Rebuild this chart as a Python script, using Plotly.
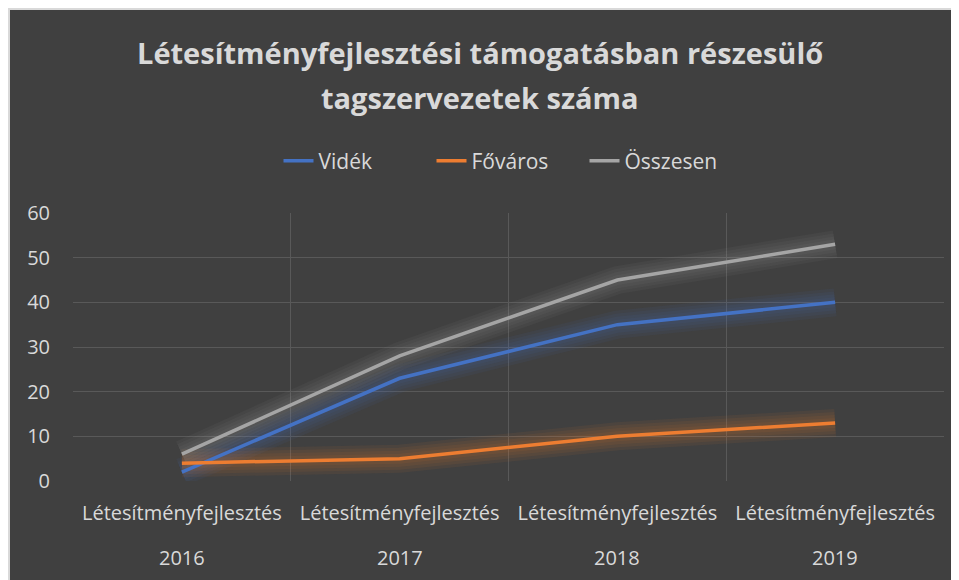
import plotly.graph_objects as go

# data
years = ["2016", "2017", "2018", "2019"]
category_label = "Létesítményfejlesztés"
videk = [2, 23, 35, 40]
fovaros = [4, 5, 10, 13]
osszesen = [6, 28, 45, 53]

series = [
    ("Vidék", videk, "#4472C4", "rgba(68,114,196,0.07)"),
    ("Főváros", fovaros, "#ED7D31", "rgba(237,125,49,0.07)"),
    ("Összesen", osszesen, "#A5A5A5", "rgba(165,165,165,0.06)"),
]

# the page puts the figure 8px in from the top-left corner
W, H = 951, 572
L, R, T, B = 65, 15, 205, 99
PW, PH = W - L - R, H - T - B


def px_x(p):
    return (p - L) / PW


def px_y(p):
    return (H - B - p) / PH


FONT = "'Open Sans', sans-serif"
TXT = "#d9d9d9"

fig = go.Figure()

# soft glow under each line
for name, vals, color, glow in series:
    for w in (28, 22, 16, 10):
        fig.add_trace(go.Scatter(
            x=years, y=vals, mode="lines",
            line=dict(color=glow, width=w),
            hoverinfo="skip", showlegend=False,
        ))

for name, vals, color, glow in series:
    fig.add_trace(go.Scatter(
        x=years, y=vals, mode="lines", name=name,
        line=dict(color=color, width=3.5),
    ))

fig.update_layout(
    width=W, height=H,
    margin=dict(l=L, r=R, t=T, b=B),
    paper_bgcolor="#404040",
    plot_bgcolor="#404040",
    font=dict(family=FONT, color=TXT, size=20),
    legend=dict(
        orientation="h", x=px_x(500), xanchor="center",
        y=px_y(153), yanchor="middle",
        font=dict(size=21, color=TXT),
        entrywidth=108, entrywidthmode="pixels",
        bgcolor="rgba(0,0,0,0)",
    ),
    showlegend=True,
)

# two-line title
title_lines = ["Létesítményfejlesztési támogatásban részesülő", "tagszervezetek száma"]
for line, ypx in zip(title_lines, (44, 89)):
    fig.add_annotation(
        text=f"<b>{line}</b>", xref="paper", yref="paper",
        x=px_x(472), y=px_y(ypx), xanchor="center", yanchor="middle",
        showarrow=False, font=dict(size=29, color=TXT, family=FONT),
    )

# outer category row (years)
for i, y in enumerate(years):
    fig.add_annotation(
        text=y, x=i, xref="x", yref="paper", y=px_y(549),
        xanchor="center", yanchor="middle", showarrow=False,
        font=dict(size=20, color=TXT, family=FONT),
    )

fig.update_xaxes(
    type="category",
    tickmode="array",
    tickvals=years,
    ticktext=[category_label for _ in years],
    tickson="boundaries",
    showgrid=True, gridcolor="#595959", gridwidth=1,
    showline=False, zeroline=False,
    ticks="", ticklabelstandoff=18,
    range=[-0.5, 3.5],
)

fig.update_yaxes(
    range=[0, 60], dtick=10,
    showgrid=True, gridcolor="#595959", gridwidth=1,
    zeroline=False, showline=False,
    ticks="", ticklabelstandoff=22,
)

# thin light frame on the left and top edges
fig.add_shape(type="line", xref="paper", yref="paper",
              x0=px_x(1), x1=px_x(1), y0=px_y(H), y1=px_y(0),
              line=dict(color="#d9d9d9", width=2), layer="above")
fig.add_shape(type="line", xref="paper", yref="paper",
              x0=px_x(0), x1=px_x(W), y0=px_y(1), y1=px_y(1),
              line=dict(color="#d9d9d9", width=2), layer="above")

fig.write_html("out.html")
